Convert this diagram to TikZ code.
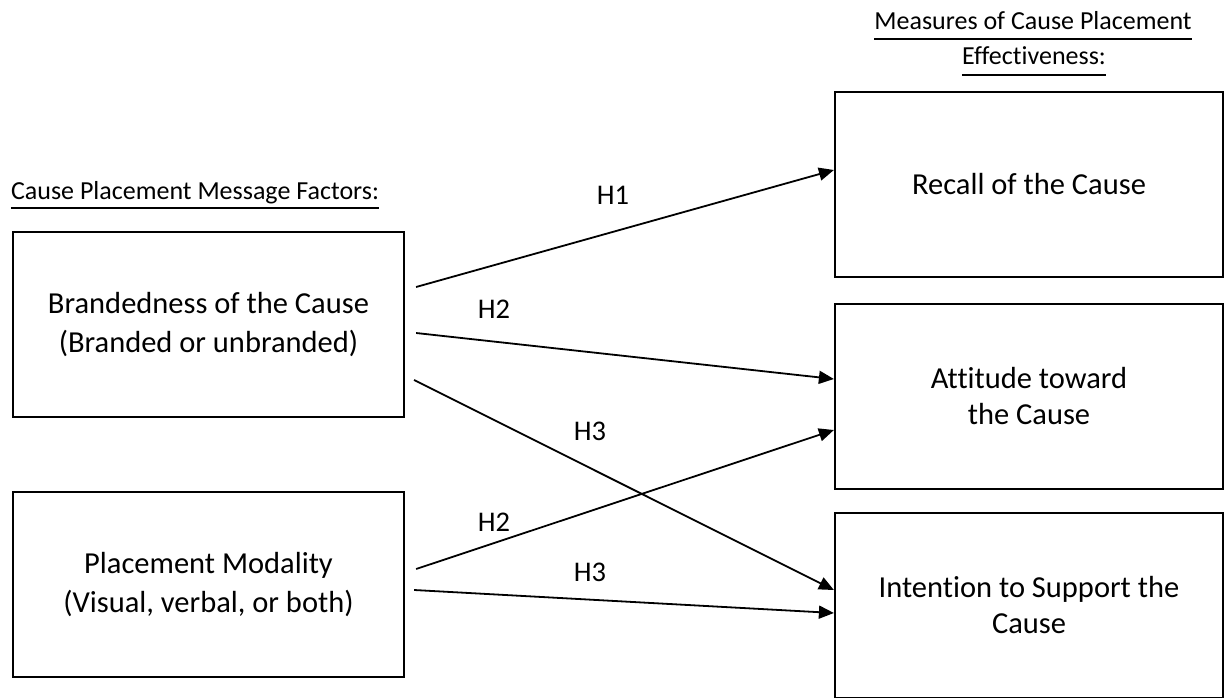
\documentclass[tikz,border=0pt]{standalone}
\usepackage{fontspec}
\setmainfont{Carlito}[Ligatures=NoCommon]
\usetikzlibrary{arrows.meta}
\begin{document}
\begin{tikzpicture}[x=1pt,y=-1pt,
  box/.style={draw=black,line width=2.2pt,rectangle,align=center,inner sep=0pt,
    minimum width=391pt,minimum height=185pt},
  lbox/.style={box,font=\fontsize{30.5}{39}\selectfont},
  rbox/.style={box,minimum width=388pt,font=\fontsize{30.5}{36}\selectfont},
  title/.style={inner sep=0pt,anchor=base,font=\fontsize{26}{28}\selectfont},
  uline/.style={line width=1.8pt},
  hyp/.style={inner sep=0pt,font=\fontsize{28.5}{30}\selectfont},
  conn/.style={line width=1.8pt,-{Triangle[length=15pt,width=13pt]}}]
\useasboundingbox[fill=white] (0,0) rectangle (1225,698);

% titles
\node[title] (tl) at (195,199) {Cause Placement Message Factors:};
\draw[uline] ([yshift=-9pt]tl.base west) -- ([yshift=-9pt]tl.base east);
\node[title] (tr1) at (1033,30) {Measures of Cause Placement};
\draw[uline] ([yshift=-9pt]tr1.base west) -- ([yshift=-9pt]tr1.base east);
\node[title] (tr2) at (1034,65) {Effectiveness:};
\draw[uline] ([yshift=-10pt]tr2.base west) -- ([yshift=-10pt]tr2.base east);

% boxes
\node[lbox] (L1) at (208.5,324.5) {Brandedness of the Cause\\(Branded or unbranded)};
\node[lbox] (L2) at (208.5,584.5) {Placement Modality\\(Visual, verbal, or both)};
\node[rbox] (R1) at (1029,184.5) {Recall of the Cause};
\node[rbox] (R2) at (1029,396.5) {Attitude toward\\the Cause};
\node[rbox] (R3) at (1029,605.5) {Intention to Support the\\Cause};

% connectors
\draw[conn] ([shift={(11,-37.5)}]L1.east) -- ([shift={(0,-14.5)}]R1.west);
\draw[conn] ([shift={(11,8.5)}]L1.east) -- ([shift={(0,-17.5)}]R2.west);
\draw[conn] ([shift={(9,55.5)}]L1.east) -- ([shift={(0,-15.5)}]R3.west);
\draw[conn] ([shift={(11,-15.5)}]L2.east) -- ([shift={(0,33.5)}]R2.west);
\draw[conn] ([shift={(9,5.5)}]L2.east) -- ([shift={(0,7.5)}]R3.west);

% labels
\node[hyp] (h1) at (613,195) {H1};
\node[hyp] (h2a) at (494,309) {H2};
\node[hyp] (h3a) at (590,431) {H3};
\node[hyp] (h2b) at (494,522) {H2};
\node[hyp] (h3b) at (590,572) {H3};
\end{tikzpicture}
\end{document}
